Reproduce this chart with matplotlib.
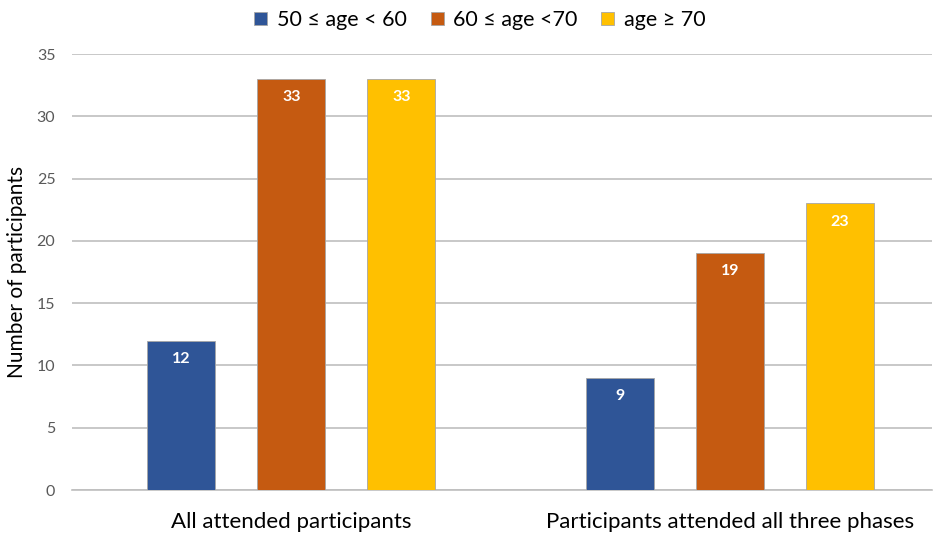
import matplotlib.pyplot as plt
import numpy as np

categories = ["All attended participants", "Participants attended all three phases"]
series_names = ["50 \u2264 age < 60", "60 \u2264 age <70", "age \u2265 70"]
age_50_60 = [12, 9]
age_60_70 = [33, 19]
age_70_up = [33, 23]
yticks = [0, 5, 10, 15, 20, 25, 30, 35]

colors = ["#2F5597", "#C55A11", "#FFC000"]

plt.rcParams['font.family'] = ['Lato', 'DejaVu Sans']

fig = plt.figure(figsize=(9.36, 5.33), dpi=100)
W, H = 936, 533
ax = fig.add_axes([72 / W, (533 - 490) / H, (932 - 72) / W, 436 / H])

x = np.arange(len(categories))
width = 0.155
offset = 0.251
for i, (vals, name, c) in enumerate(zip([age_50_60, age_60_70, age_70_up], series_names, colors)):
    bars = ax.bar(x + (i - 1) * offset, vals, width, color=c, label=name,
                  edgecolor="#A6A6A6", linewidth=0.6, zorder=3)
    for b, v in zip(bars, vals):
        ax.text(b.get_x() + b.get_width() / 2, v - 1.45, str(v), ha="center", va="center",
                color="white", fontsize=11.5, fontweight="bold", zorder=4)

ax.set_xlim(-0.5, 1.5 - 17 / 438.5)
ax.set_ylim(0, 35)
ax.set_yticks(yticks)
ax.yaxis.grid(True, color="#BFBFBF", linewidth=1.2, zorder=0)
ax.set_axisbelow(True)
for s in ["top", "right", "left"]:
    ax.spines[s].set_visible(False)
ax.spines["bottom"].set_color("#BFBFBF")
ax.spines["bottom"].set_linewidth(1.2)
ax.tick_params(axis="y", length=0, labelsize=11.5, labelcolor="#595959", pad=12)
ax.tick_params(axis="x", length=0, labelsize=16, labelcolor="black", pad=16)
ax.set_xticks(x)
ax.set_xticklabels(categories)
ax.set_ylabel("Number of participants", fontsize=15, labelpad=7)

fig.legend(loc="center", bbox_to_anchor=(480 / W, 1 - 20 / H), ncol=3, frameon=False,
           fontsize=15.5, handlelength=0.6, handleheight=0.6, columnspacing=1.1,
           handletextpad=0.45)

fig.savefig("out.png", dpi=100)
